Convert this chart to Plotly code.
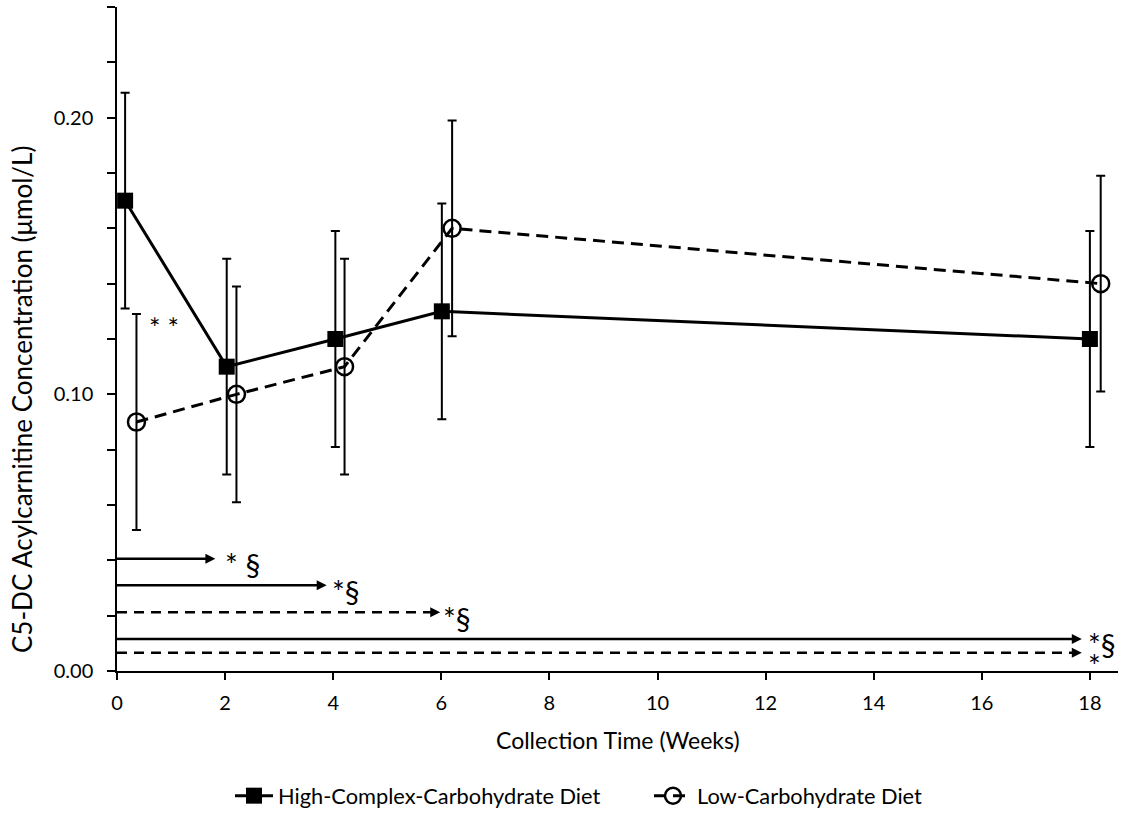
import plotly.graph_objects as go

# ---- data ----
high_x = [0.15, 2.03, 4.04, 6.01, 18.0]
high_y = [0.17, 0.11, 0.12, 0.13, 0.12]
high_err = [0.039, 0.039, 0.039, 0.039, 0.039]

low_x = [0.36, 2.21, 4.21, 6.20, 18.20]
low_y = [0.09, 0.10, 0.11, 0.16, 0.14]
low_err = [0.039, 0.039, 0.039, 0.039, 0.039]

# significance comparison arrows (from baseline to the week indicated)
comp_y = [0.0406, 0.0310, 0.0212, 0.0116, 0.0066]
comp_tip = [1.82, 3.88, 5.98, 17.85, 17.85]
comp_dash = ["solid", "solid", "dash", "solid", "dash"]
comp_label = ["* §", "*§", "*§", "*§", "*"]
comp_gap = [9, 4, 2, 5, 5]   # px gap between arrow tip and label

x_ticks = [0, 2, 4, 6, 8, 10, 12, 14, 16, 18]
y_tickvals = [0.0, 0.1, 0.2]
y_ticktext = ["0.00", "0.10", "0.20"]

FONT = "Lato"
X_RANGE = [0, 18.52]
Y_RANGE = [0, 0.24]
ML, MR, MT, MB = 117, 7, 7, 142
W, H = 1125, 813
px_per_x = (W - ML - MR) / (X_RANGE[1] - X_RANGE[0])

fig = go.Figure()

# comparison arrows
for yv, tip, dash, lab, gap in zip(comp_y, comp_tip, comp_dash, comp_label, comp_gap):
    d = "10px,7px" if dash == "dash" else "solid"
    fig.add_trace(go.Scatter(
        x=[0, tip - 4 / px_per_x], y=[yv, yv], mode="lines",
        line=dict(color="black", width=2.5, dash=d),
        showlegend=False, hoverinfo="skip", cliponaxis=False))
    fig.add_trace(go.Scatter(
        x=[tip], y=[yv], mode="markers",
        marker=dict(symbol="arrow-right", size=10, color="black",
                    line=dict(width=0)),
        showlegend=False, hoverinfo="skip", cliponaxis=False))
    fig.add_annotation(x=tip, y=yv, xref="x", yref="y", text=lab,
                       showarrow=False, xanchor="left", yanchor="middle",
                       xshift=gap, yshift=(-5.5 if "§" in lab else -12.6),
                       borderpad=0,
                       font=dict(family=FONT, size=30, color="black"))

# data series
fig.add_trace(go.Scatter(
    x=high_x, y=high_y, mode="lines+markers",
    name="High-Complex-Carbohydrate Diet",
    line=dict(color="black", width=3),
    marker=dict(symbol="square", size=16, color="black"),
    error_y=dict(type="data", array=high_err, visible=True,
                 color="black", thickness=2, width=4.5),
    cliponaxis=False, legend="legend"))

fig.add_trace(go.Scatter(
    x=low_x, y=low_y, mode="lines+markers",
    name="Low-Carbohydrate Diet",
    line=dict(color="black", width=3, dash="12px,7px"),
    marker=dict(symbol="circle-open", size=17, color="black",
                line=dict(width=2.5, color="black")),
    error_y=dict(type="data", array=low_err, visible=True,
                 color="black", thickness=2, width=4.5),
    cliponaxis=False, legend="legend2"))

fig.add_annotation(x=0.875, y=0.1241, xref="x", yref="y", text="* *",
                   showarrow=False, xanchor="center", yanchor="middle",
                   font=dict(family=FONT, size=27, color="black"))

# axis titles as annotations
fig.add_annotation(x=(22 - ML) / (W - ML - MR), y=(H - MB - 400) / (H - MT - MB),
                   xref="paper", yref="paper", textangle=-90,
                   text="C5-DC Acylcarnitine Concentration (μmol/L)",
                   showarrow=False, xanchor="center", yanchor="middle",
                   font=dict(family=FONT, size=26, color="black"))
fig.add_annotation(x=0.5, y=(H - MB - 740) / (H - MT - MB),
                   xref="paper", yref="paper",
                   text="Collection Time (Weeks)",
                   showarrow=False, xanchor="center", yanchor="middle",
                   font=dict(family=FONT, size=23, color="black"))

fig.update_layout(
    width=W, height=H,
    margin=dict(l=ML, r=MR, t=MT, b=MB),
    paper_bgcolor="white", plot_bgcolor="white",
    font=dict(family=FONT, size=20, color="black"),
    xaxis=dict(range=X_RANGE, tickvals=x_ticks, showgrid=False, zeroline=False,
               showline=True, linecolor="black", linewidth=1.5,
               ticks="outside", ticklen=7, tickwidth=1.5, tickcolor="black",
               ticklabelstandoff=6,
               tickfont=dict(family=FONT, size=20, color="black")),
    yaxis=dict(range=Y_RANGE, tickvals=y_tickvals, ticktext=y_ticktext,
               showgrid=False, zeroline=False,
               showline=True, linecolor="black", linewidth=1.5,
               ticks="outside", ticklen=8, tickwidth=1.5, tickcolor="black",
               ticklabelstandoff=10,
               minor=dict(dtick=0.02, ticks="outside", ticklen=8,
                          tickwidth=1.5, tickcolor="black", showgrid=False),
               tickfont=dict(family=FONT, size=20, color="black")),
    legend=dict(orientation="h", xref="container", yref="container",
                x=230 / W, y=(H - 796) / H, xanchor="left", yanchor="middle",
                itemwidth=38, font=dict(family=FONT, size=21.8, color="black"),
                bgcolor="rgba(0,0,0,0)"),
    legend2=dict(orientation="h", xref="container", yref="container",
                 x=649 / W, y=(H - 796) / H, xanchor="left", yanchor="middle",
                 itemwidth=38, font=dict(family=FONT, size=21.8, color="black"),
                 bgcolor="rgba(0,0,0,0)"),
)

fig.write_html("out.html", config={"displayModeBar": False},
               post_script="document.body.style.margin='0px';")
